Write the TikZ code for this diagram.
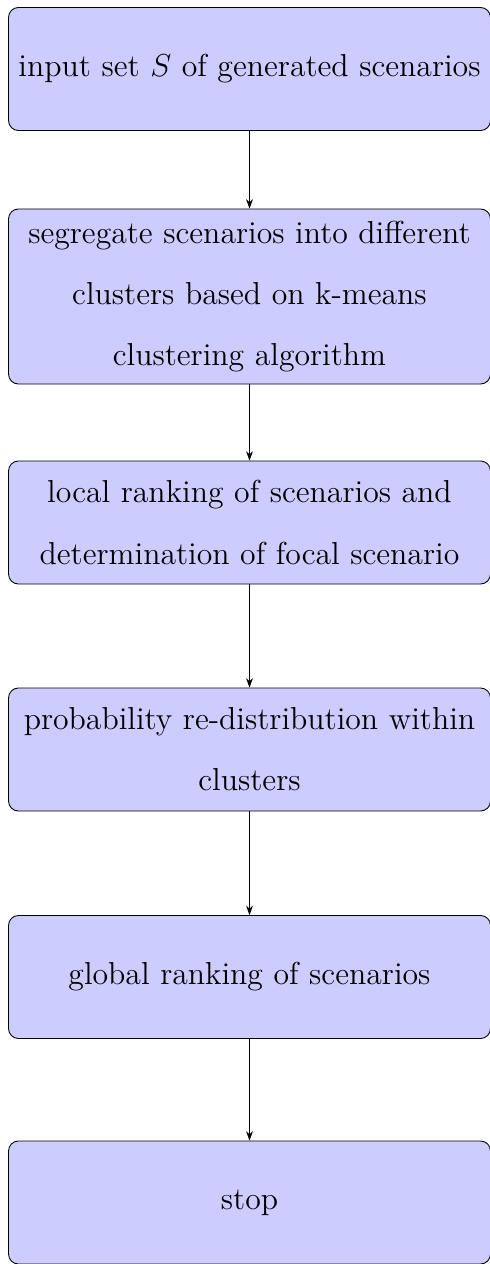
\documentclass[tikz,border=0pt]{standalone}
\usepackage{tikz}
\usetikzlibrary{arrows.meta}
\tikzset{
  flow box/.style={
    rectangle,rounded corners=4.5pt,draw=black,fill=blue!20,line width=0.4pt,
    minimum width=218.6pt,minimum height=55.8pt,text width=216pt,
    align=center,inner sep=0pt,font=\Large
  },
  flow arrow/.style={black,line width=0.4pt,-{Stealth[length=1.5mm,width=1.1mm]}}
}

\begin{document}
\begin{tikzpicture}[x=0.4536pt,y=-0.4536pt]
  \useasboundingbox (0,0) rectangle (490,1264);
  \node[flow box] (input) at (249.5,69) {input set $S$ of generated scenarios};
  \node[flow box,minimum height=79.4pt] (kmeans) at (249.5,296.5)
    {segregate scenarios into different\\[9.7pt] clusters based on k-means\\[9.7pt] clustering algorithm};
  \node[flow box] (local) at (249.5,522.5)
    {local ranking of scenarios and\\[9.7pt] determination of focal scenario};
  \node[flow box] (redist) at (249.5,749.5)
    {probability re-distribution within\\[9.7pt] clusters};
  \node[flow box] (global) at (249.5,977) {global ranking of scenarios};
  \node[flow box] (stop) at (249.5,1202.5) {stop};

  \draw[flow arrow] (input)--(kmeans);
  \draw[flow arrow] (kmeans)--(local);
  \draw[flow arrow] (local)--(redist);
  \draw[flow arrow] (redist)--(global);
  \draw[flow arrow] (global)--(stop);
\end{tikzpicture}
\end{document}
